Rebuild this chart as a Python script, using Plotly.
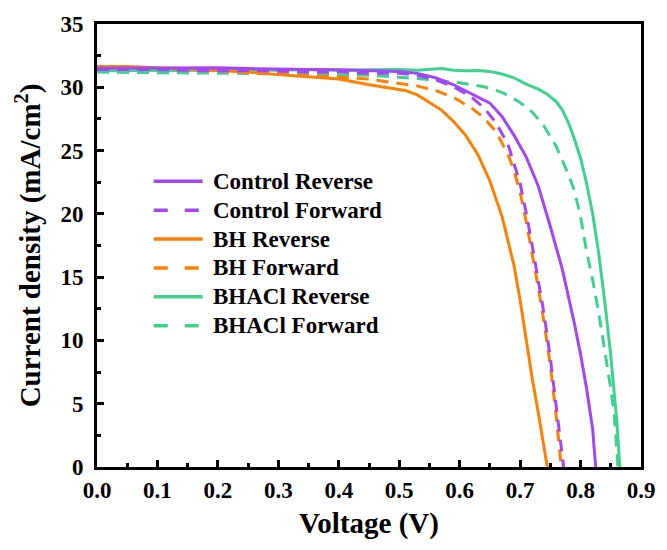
import plotly.graph_objects as go

# J-V curves (current density in mA/cm2 vs voltage in V)
control_rev_v = [0, 0.05, 0.1, 0.15, 0.2, 0.25, 0.3, 0.35, 0.4, 0.45, 0.5, 0.53, 0.56, 0.59, 0.62,
                 0.65, 0.67, 0.69, 0.71, 0.73, 0.75, 0.77, 0.79, 0.80, 0.81, 0.82, 0.825]
control_rev_j = [31.50, 31.50, 31.50, 31.52, 31.55, 31.48, 31.42, 31.40, 31.38, 31.30, 31.25, 31.10,
                 30.75, 30.20, 29.50, 28.75, 27.70, 26.20, 24.50, 22.20, 19.00, 15.60, 11.30, 8.90,
                 6.20, 3.00, 0.00]

control_fwd_v = [0, 0.05, 0.1, 0.15, 0.2, 0.25, 0.3, 0.35, 0.4, 0.45, 0.5, 0.53, 0.56, 0.59, 0.62,
                 0.64, 0.66, 0.68, 0.70, 0.71, 0.72, 0.73, 0.74, 0.75, 0.76, 0.766, 0.772]
control_fwd_j = [31.40, 31.42, 31.40, 31.35, 31.30, 31.32, 31.28, 31.20, 31.22, 31.10, 31.10, 30.95,
                 30.60, 30.05, 29.20, 28.40, 27.20, 25.50, 22.40, 20.10, 17.50, 14.90, 12.00, 8.60,
                 4.80, 2.40, 0.00]

bh_rev_v = [0, 0.05, 0.1, 0.15, 0.2, 0.25, 0.3, 0.35, 0.4, 0.45, 0.48, 0.51, 0.53, 0.55, 0.57,
            0.59, 0.61, 0.63, 0.65, 0.67, 0.69, 0.70, 0.71, 0.72, 0.73, 0.74, 0.745]
bh_rev_j = [31.65, 31.65, 31.55, 31.45, 31.35, 31.20, 31.00, 30.85, 30.65, 30.20, 29.95, 29.75,
            29.40, 28.80, 28.20, 27.30, 26.20, 24.70, 22.60, 19.80, 15.90, 13.20, 10.00, 7.00,
            4.30, 1.50, 0.00]

bh_fwd_v = [0, 0.05, 0.1, 0.15, 0.2, 0.25, 0.3, 0.35, 0.4, 0.45, 0.5, 0.53, 0.56, 0.59, 0.62,
            0.64, 0.66, 0.68, 0.69, 0.70, 0.71, 0.72, 0.73, 0.74, 0.75, 0.76, 0.768]
bh_fwd_j = [31.60, 31.55, 31.45, 31.35, 31.30, 31.15, 31.00, 30.90, 30.80, 30.65, 30.30, 30.10,
            29.75, 29.20, 28.35, 27.60, 26.50, 24.70, 23.40, 21.70, 19.40, 16.90, 14.20, 11.30,
            8.00, 3.90, 0.00]

bhacl_rev_v = [0, 0.05, 0.1, 0.15, 0.2, 0.25, 0.3, 0.35, 0.4, 0.45, 0.5, 0.53, 0.55, 0.57, 0.59,
               0.61, 0.63, 0.65, 0.67, 0.69, 0.71, 0.72, 0.73, 0.745, 0.76, 0.77, 0.78, 0.79, 0.80,
               0.81, 0.82, 0.83, 0.84, 0.85, 0.855, 0.86, 0.865]
bhacl_rev_j = [31.30, 31.30, 31.32, 31.35, 31.35, 31.38, 31.35, 31.40, 31.35, 31.38, 31.40, 31.35,
               31.42, 31.48, 31.35, 31.30, 31.32, 31.25, 31.05, 30.75, 30.25, 30.05, 29.85, 29.45,
               28.85, 28.20, 27.20, 25.90, 24.40, 22.40, 20.00, 16.90, 13.10, 8.80, 6.40, 3.60, 0.00]

bhacl_fwd_v = [0, 0.05, 0.1, 0.15, 0.2, 0.25, 0.3, 0.35, 0.4, 0.45, 0.5, 0.55, 0.6, 0.64, 0.67,
               0.70, 0.72, 0.74, 0.76, 0.78, 0.79, 0.80, 0.81, 0.82, 0.83, 0.84, 0.85, 0.856, 0.862]
bhacl_fwd_j = [31.20, 31.18, 31.15, 31.15, 31.15, 31.12, 31.10, 31.05, 31.00, 30.95, 30.80, 30.62,
               30.35, 30.05, 29.60, 28.80, 28.05, 26.90, 25.30, 23.10, 21.80, 19.80, 17.00, 14.80,
               12.20, 9.20, 6.20, 4.00, 0.00]

series_names = ["Control Reverse", "Control Forward", "BH Reverse", "BH Forward",
                "BHACl Reverse", "BHACl Forward"]
series_v = [control_rev_v, control_fwd_v, bh_rev_v, bh_fwd_v, bhacl_rev_v, bhacl_fwd_v]
series_j = [control_rev_j, control_fwd_j, bh_rev_j, bh_fwd_j, bhacl_rev_j, bhacl_fwd_j]

PURPLE, ORANGE, GREEN = "#A346F6", "#FF8000", "#3DD290"
series_colors = [PURPLE, PURPLE, ORANGE, ORANGE, GREEN, GREEN]
series_dash = ["solid", "12px,8px", "solid", "12px,8px", "solid", "12px,8px"]

x_ticks = [0.0, 0.1, 0.2, 0.3, 0.4, 0.5, 0.6, 0.7, 0.8, 0.9]
y_ticks = [0, 5, 10, 15, 20, 25, 30, 35]

FONT = "Liberation Serif"


def bold_font(size):
    return dict(family=FONT, size=size, color="black", weight=700)


fig = go.Figure()
# draw in reverse so the control curves sit on top
for name, v, j, c, d in reversed(list(zip(series_names, series_v, series_j, series_colors, series_dash))):
    fig.add_trace(go.Scatter(x=v, y=j, mode="lines", name=name, showlegend=False,
                             line=dict(color=c, width=3, dash=d)))

# hand-built legend: sample line + label for each series
W, H = 556.0, 445.0
row0, row_step = 180.0, 29.0
for i, (name, c, d) in enumerate(zip(series_names, series_colors, series_dash)):
    py = row0 + i * row_step
    yp = (467.0 - py) / H
    fig.add_shape(type="line", xref="paper", yref="paper",
                  x0=(155 - 97) / W, x1=(205 - 97) / W, y0=yp, y1=yp,
                  line=dict(color=c, width=3.5, dash="solid" if d == "solid" else "14px,17px"))
    fig.add_annotation(xref="paper", yref="paper", x=(214 - 97) / W, y=yp,
                       xanchor="left", yanchor="middle", text=name, showarrow=False,
                       font=bold_font(23))

axis_common = dict(
    showline=True, linecolor="black", linewidth=3, mirror=True,
    ticks="inside", ticklen=7, tickwidth=2.5, tickcolor="black",
    showgrid=False, zeroline=False,
    tickfont=bold_font(23),
)

fig.update_xaxes(range=[0, 0.9], tickvals=x_ticks, ticktext=[f"{t:.1f}" for t in x_ticks],
                 minor=dict(dtick=0.05, ticks="inside", ticklen=4, tickwidth=2.5, tickcolor="black"),
                 title=dict(text="Voltage (V)", standoff=12, font=bold_font(29)),
                 **axis_common)
fig.update_yaxes(range=[0, 35], tickvals=y_ticks, ticktext=[str(t) for t in y_ticks],
                 ticklabelstandoff=6,
                 minor=dict(dtick=2.5, ticks="inside", ticklen=4, tickwidth=2.5, tickcolor="black"),
                 title=dict(text="Current density (mA/cm<sup>2</sup>)", standoff=12, font=bold_font(29)),
                 **axis_common)

fig.update_layout(
    width=667, height=550,
    margin=dict(l=97, r=14, t=22, b=83),
    plot_bgcolor="white", paper_bgcolor="white",
    showlegend=False,
)

fig.write_html("out.html")
